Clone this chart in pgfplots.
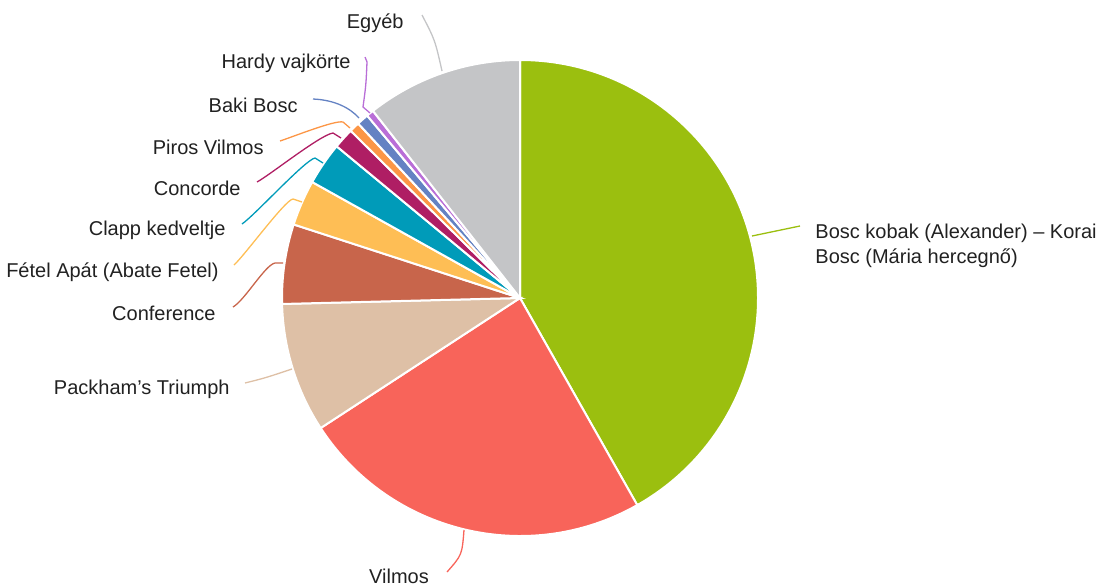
\documentclass[border=0pt]{standalone}
\usepackage{pgfplots}
\usepackage{pgfplotstable}
\pgfplotsset{compat=1.18}
\usepackage{fontspec}
\setmainfont{Liberation Sans}

% slice colours, clockwise from the top
\definecolor{c0}{HTML}{9BBF0F}
\definecolor{c1}{HTML}{F8645A}
\definecolor{c2}{HTML}{DEC0A6}
\definecolor{c3}{HTML}{C8654B}
\definecolor{c4}{HTML}{FEBE55}
\definecolor{c5}{HTML}{009BB9}
\definecolor{c6}{HTML}{AF1E64}
\definecolor{c7}{HTML}{FC9646}
\definecolor{c8}{HTML}{6482C3}
\definecolor{c9}{HTML}{B96ED7}
\definecolor{c10}{HTML}{C4C5C7}
\definecolor{txt}{HTML}{212121}

%% shares in percent, clockwise from 12 o'clock
\pgfplotstableread{
idx value
0 41.8
1 24.0
2 8.8
3 5.4
4 3.1
5 2.9
6 1.4
7 0.7
8 0.8
9 0.5
10 10.6
}\piedata

\begin{document}
\begin{tikzpicture}[font=\fontsize{10}{12.5}\selectfont, lbl/.style={text=txt, inner sep=0pt}]
%% cumulative start/end angles of each slice
\gdef\cumA{0}%
\foreach \i in {0,...,10}{%
  \pgfplotstablegetelem{\i}{value}\of\piedata%
  \pgfmathsetmacro\st{90-3.6*\cumA}%
  \pgfmathsetmacro\newcum{\cumA+\pgfplotsretval}%
  \pgfmathsetmacro\en{90-3.6*\newcum}%
  \expandafter\xdef\csname pieS\i\endcsname{\st}%
  \expandafter\xdef\csname pieE\i\endcsname{\en}%
  \xdef\cumA{\newcum}%
}%
\begin{axis}[%
  hide axis,
  clip=false,
  x=0.5pt, y=0.5pt,
  xmin=0, xmax=1097,
  ymin=0, ymax=584,
  y dir=reverse
]
\coordinate (TL) at (axis cs:0,0);
\coordinate (BR) at (axis cs:1097,584);
%% slices
\pgfplotsinvokeforeach{0,...,10}{
  \fill[fill=c#1, draw=white, line width=1pt]
    (axis cs:520,298) -- ++(\csname pieS#1\endcsname:119pt)
    arc[start angle=\csname pieS#1\endcsname, end angle=\csname pieE#1\endcsname, radius=119pt] -- cycle;
}
%% leader lines
\begin{scope}[line width=0.65pt]
\draw[c0] (axis cs:752,236) -- (axis cs:800,226);
\draw[c1] (axis cs:464,530) .. controls (axis cs:462,555) .. (axis cs:447,572);
\draw[c2] (axis cs:292,369) .. controls (axis cs:265,378) .. (axis cs:245,383);
\draw[c3] (axis cs:283,263) -- (axis cs:275,263) .. controls (axis cs:265,265) and (axis cs:245,300) .. (axis cs:233,307);
\draw[c4] (axis cs:302,202) -- (axis cs:293,199) .. controls (axis cs:285,200) and (axis cs:245,255) .. (axis cs:234,265);
\draw[c5] (axis cs:323,163) -- (axis cs:315,158) .. controls (axis cs:305,160) and (axis cs:255,215) .. (axis cs:242,224);
\draw[c6] (axis cs:341,138) -- (axis cs:333,133) .. controls (axis cs:320,135) and (axis cs:270,175) .. (axis cs:257,182);
\draw[c7] (axis cs:350,128) -- (axis cs:343,122) .. controls (axis cs:335,120) and (axis cs:295,136) .. (axis cs:280,141);
\draw[c8] (axis cs:359,118) .. controls (axis cs:350,108) and (axis cs:335,100) .. (axis cs:313,99);
\draw[c9] (axis cs:370,113) -- (axis cs:363,107) .. controls (axis cs:366,85) .. (axis cs:367,62) -- (axis cs:365,57);
\draw[c10] (axis cs:442,71) .. controls (axis cs:435,40) .. (axis cs:422,15);
\end{scope}
%% labels
\node[lbl, anchor=west, align=left] at (axis cs:815,245.5) {Bosc kobak (Alexander) – Korai\\Bosc (Mária hercegnő)};
\node[lbl] at (axis cs:399,576) {Vilmos};
\node[lbl, anchor=east] at (axis cs:230,389) {Packham’s Triumph};
\node[lbl, anchor=east] at (axis cs:216,313) {Conference};
\node[lbl, anchor=east] at (axis cs:219,272) {Fétel Apát (Abate Fetel)};
\node[lbl, anchor=east] at (axis cs:226,230) {Clapp kedveltje};
\node[lbl, anchor=east] at (axis cs:241,188) {Concorde};
\node[lbl, anchor=east] at (axis cs:264,147) {Piros Vilmos};
\node[lbl, anchor=east] at (axis cs:298,105) {Baki Bosc};
\node[lbl, anchor=east] at (axis cs:351,63) {Hardy vajkörte};
\node[lbl, anchor=east] at (axis cs:404,23) {Egyéb};
\end{axis}
\pgfresetboundingbox
\path (TL) rectangle (BR);
\end{tikzpicture}
\end{document}
